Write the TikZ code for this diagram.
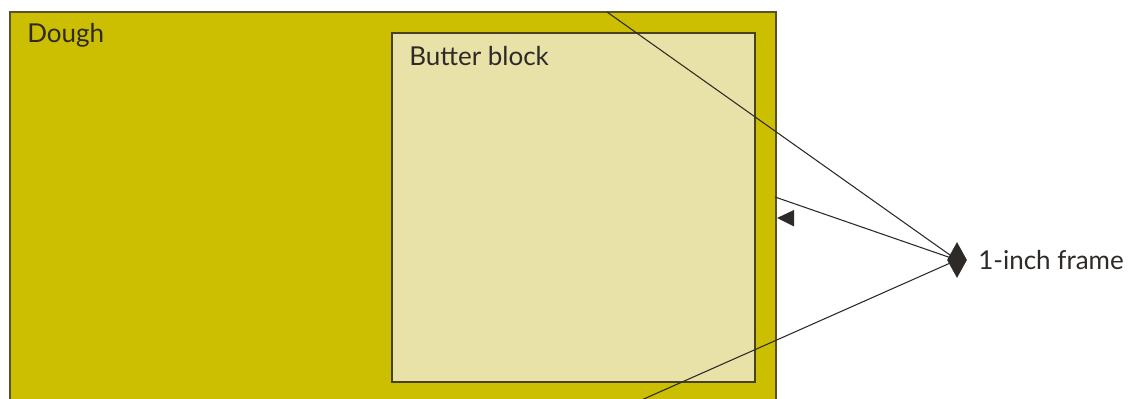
\documentclass[tikz,border=0pt]{standalone}
\usepackage{fontspec}
\setmainfont{Lato}
\usetikzlibrary{shapes.geometric}
\definecolor{dough}{HTML}{CCBE00}
\definecolor{butter}{HTML}{E8E1A8}
\definecolor{edge}{HTML}{5A5228}
\definecolor{ink}{HTML}{2E2A28}
\begin{document}
\begin{tikzpicture}[x=0.75pt,y=-0.75pt,
  lbl/.style={font=\fontsize{19.5}{23}\selectfont, text=ink, inner sep=0pt, anchor=base west},
  leader/.style={draw=ink, line width=0.8pt}]
\useasboundingbox (0,0) rectangle (1130,399);
\begin{scope}
\clip (0,0) rectangle (1130,399);
\draw[fill=dough, draw=edge, line width=1.2pt] (10,12) rectangle (776,420);
\draw[fill=butter, draw=edge!80!black, line width=1pt] (392,33) rectangle (755,382);
\node[lbl] (dlabel) at (27,43) {Dough};
\node[lbl] (blabel) at (409,66) {Butter block};
\node[diamond, fill=ink, draw=none, inner sep=0pt, minimum width=20*0.75pt, minimum height=36*0.75pt, aspect=0.55] (dia) at (957,260) {};
\node[lbl] (flabel) at (978,269) {1-inch frame};
\coordinate (ptop) at (607,12);
\coordinate (pright) at (775,197);
\coordinate (pbot) at (637,402);
\draw[leader] (dia.center) -- (ptop);
\draw[leader] (dia.center) -- (pright);
\draw[leader] (dia.center) -- (pbot);
\fill[ink] (777,218) -- (794,210) -- (794,226.5) -- cycle;
\end{scope}
\end{tikzpicture}
\end{document}
